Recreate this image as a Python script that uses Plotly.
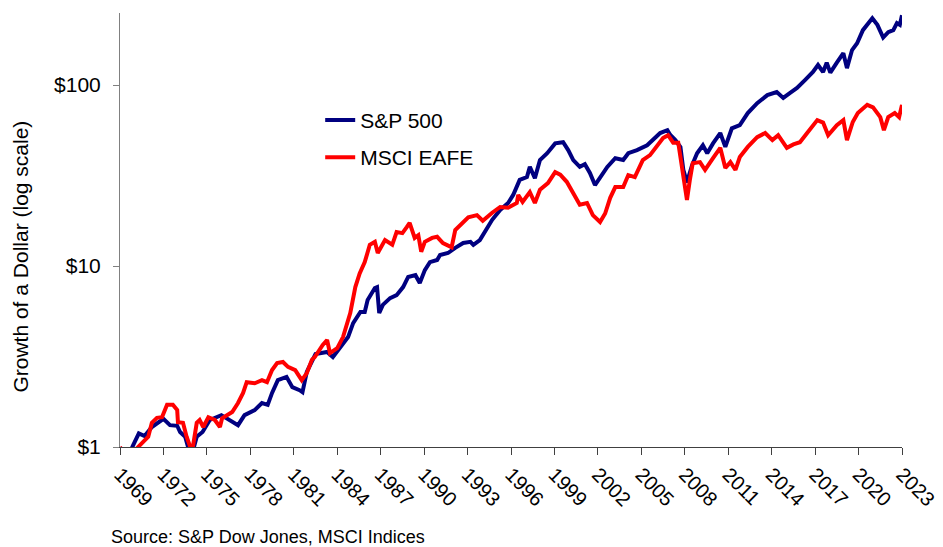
import plotly.graph_objects as go

# ---- data (x = year position on axis, y = growth of $1) ----
sp500_years = [1969.0, 1969.4, 1969.85, 1970.3, 1970.7, 1971.2, 1972.0, 1972.45, 1972.95, 1973.15,
               1973.5, 1973.7, 1974.0, 1974.3, 1974.7, 1975.2, 1976.0, 1976.5, 1977.15, 1977.6,
               1978.3, 1978.8, 1979.2, 1979.5, 1979.9, 1980.5, 1980.9, 1981.4, 1981.6, 1981.9,
               1982.3, 1982.5, 1983.3, 1983.7, 1984.75, 1985.1, 1985.6, 1985.9, 1986.1, 1986.6,
               1986.75, 1986.9, 1987.15, 1987.65, 1988.1, 1988.55, 1988.9, 1989.4, 1989.7, 1990.05,
               1990.4, 1990.9, 1991.1, 1991.65, 1992.15, 1992.7, 1993.2, 1993.4, 1993.85, 1994.2,
               1994.7, 1995.25, 1995.8, 1996.15, 1996.5, 1996.6, 1997.1, 1997.3, 1997.65, 1998.0,
               1998.5, 1999.05, 1999.6, 1999.95, 2000.3, 2000.75, 2001.1, 2001.45, 2001.8, 2002.15,
               2002.65, 2003.2, 2003.75, 2004.1, 2004.7, 2005.4, 2005.8, 2006.3, 2006.8, 2007.0,
               2007.35, 2007.7, 2007.9, 2008.15, 2008.5, 2008.85, 2009.25, 2009.55, 2009.95, 2010.45,
               2010.8, 2011.25, 2011.8, 2012.35, 2013.0, 2013.7, 2014.35, 2014.8, 2015.25, 2015.75,
               2016.3, 2016.85, 2017.2, 2017.55, 2017.8, 2018.05, 2018.5, 2018.95, 2019.2, 2019.55,
               2019.9, 2020.3, 2020.95, 2021.3, 2021.7, 2022.05, 2022.4, 2022.65, 2022.85, 2023.0]
sp500_values = [1.00, 0.78, 1.00, 1.19, 1.15, 1.29, 1.43, 1.32, 1.31, 1.21,
                1.14, 1.00, 0.93, 1.14, 1.21, 1.41, 1.50, 1.41, 1.32, 1.50,
                1.60, 1.75, 1.71, 1.99, 2.34, 2.44, 2.14, 2.06, 2.01, 2.60,
                3.03, 3.26, 3.35, 3.14, 4.05, 4.84, 5.57, 5.57, 6.49, 7.56,
                7.65, 5.50, 6.10, 6.65, 6.90, 7.65, 8.70, 8.90, 8.05, 9.50,
                10.5, 10.8, 11.5, 11.8, 12.6, 13.4, 13.6, 13.1, 13.9, 15.4,
                18.0, 20.4, 22.3, 24.7, 28.7, 29.9, 31.0, 35.3, 30.6, 38.5,
                42.0, 47.6, 48.3, 43.7, 38.5, 35.3, 36.5, 32.7, 28.0, 30.6,
                35.3, 39.4, 38.5, 42.0, 43.7, 46.5, 49.6, 54.3, 56.3, 53.0,
                49.6, 45.5, 34.0, 29.0, 36.0, 42.0, 46.5, 42.0, 47.6, 54.3,
                45.5, 57.7, 60.0, 70.0, 79.4, 88.0, 91.5, 84.9, 90.3, 96.3,
                106.5, 118.0, 129.0, 118.0, 133.0, 117.0, 133.0, 150.0, 124.0, 156.0,
                170.0, 201.0, 234.0, 215.0, 183.0, 196.0, 201.0, 220.0, 215.0, 243.0]

eafe_years = [1969.0, 1969.5, 1970.25, 1970.6, 1970.95, 1971.2, 1971.55, 1971.9, 1972.25, 1972.65,
              1972.95, 1973.0, 1973.35, 1973.6, 1973.85, 1974.05, 1974.3, 1974.5, 1974.75, 1975.1,
              1975.55, 1975.9, 1976.05, 1976.75, 1977.15, 1977.5, 1977.75, 1978.3, 1978.8, 1979.15,
              1979.5, 1979.85, 1980.25, 1980.6, 1981.1, 1981.55, 1981.9, 1982.25, 1982.45, 1983.0,
              1983.3, 1983.5, 1984.0, 1984.4, 1984.9, 1985.25, 1985.55, 1985.9, 1986.25, 1986.6,
              1986.8, 1987.3, 1987.8, 1988.1, 1988.5, 1988.8, 1989.0, 1989.35, 1989.6, 1989.8,
              1990.05, 1990.55, 1990.9, 1991.3, 1991.9, 1992.15, 1992.6, 1993.05, 1993.65, 1994.05,
              1994.7, 1995.25, 1995.8, 1996.4, 1996.5, 1996.8, 1997.3, 1997.65, 1998.0, 1998.55,
              1999.05, 1999.4, 1999.85, 2000.3, 2000.75, 2001.25, 2001.65, 2002.15, 2002.5, 2002.85,
              2003.2, 2003.75, 2004.1, 2004.55, 2005.1, 2005.6, 2006.1, 2006.5, 2006.85, 2007.2,
              2007.55, 2007.8, 2008.0, 2008.15, 2008.35, 2008.55, 2009.05, 2009.4, 2009.95, 2010.45,
              2010.8, 2011.15, 2011.5, 2011.8, 2012.35, 2013.0, 2013.55, 2014.05, 2014.45, 2015.05,
              2015.5, 2015.95, 2016.45, 2017.15, 2017.55, 2017.9, 2018.5, 2018.95, 2019.2, 2019.6,
              2019.95, 2020.6, 2021.0, 2021.5, 2021.75, 2022.05, 2022.5, 2022.8, 2023.0]
eafe_values = [1.00, 0.85, 1.00, 1.07, 1.14, 1.36, 1.45, 1.46, 1.71, 1.71,
               1.60, 1.37, 1.36, 1.14, 1.00, 1.02, 1.36, 1.41, 1.29, 1.46,
               1.41, 1.29, 1.44, 1.56, 1.75, 1.99, 2.28, 2.25, 2.34, 2.28,
               2.66, 2.91, 2.95, 2.77, 2.66, 2.34, 2.56, 3.03, 3.14, 3.66,
               3.90, 3.30, 3.52, 4.05, 5.50, 7.65, 9.10, 10.5, 13.1, 13.6,
               11.8, 13.9, 13.1, 15.4, 15.2, 16.4, 17.3, 14.3, 14.8, 12.0,
               13.6, 14.3, 14.5, 13.4, 12.7, 15.8, 17.3, 18.6, 19.1, 17.8,
               19.7, 21.2, 21.0, 22.3, 24.7, 22.6, 25.6, 22.3, 26.4, 28.7,
               33.0, 32.0, 29.2, 25.3, 21.8, 22.3, 19.1, 17.5, 19.5, 23.8,
               27.3, 27.3, 31.8, 31.0, 38.5, 41.0, 46.5, 50.9, 52.8, 48.0,
               48.0, 35.3, 27.3, 23.2, 29.9, 37.0, 37.5, 34.0, 39.5, 45.0,
               34.8, 37.5, 34.0, 40.0, 45.5, 51.5, 54.3, 49.6, 52.8, 45.0,
               47.0, 48.3, 54.3, 64.0, 62.0, 52.8, 60.0, 64.0, 49.6, 62.5,
               70.0, 77.7, 75.3, 66.5, 56.3, 66.5, 70.0, 66.5, 77.7]

x_tick_years = list(range(1969, 2024, 3))
x_tick_labels = [str(y) for y in x_tick_years]
y_tick_values = [1, 10, 100]
y_tick_labels = ["$1", "$10", "$100"]

FONT = "Arial, 'Liberation Sans', sans-serif"

fig = go.Figure()
fig.add_trace(go.Scatter(x=sp500_years, y=sp500_values, mode="lines", name="S&P 500",
                         line=dict(color="#000080", width=4), legendgroup="a"))
fig.add_trace(go.Scatter(x=eafe_years, y=eafe_values, mode="lines", name="MSCI EAFE",
                         line=dict(color="#FF0000", width=4), legendgroup="b"))

fig.update_layout(
    width=943, height=547,
    margin=dict(l=112, r=49, t=5, b=108),
    paper_bgcolor="white", plot_bgcolor="white",
    font=dict(family=FONT, color="black", size=20),
    showlegend=True,
    legend=dict(x=0.256, y=0.80, xanchor="left", yanchor="top",
                bgcolor="rgba(0,0,0,0)", font=dict(size=21, family=FONT),
                tracegroupgap=7, traceorder="grouped"),
    xaxis=dict(range=[1969, 2023], tickmode="array", tickvals=x_tick_years, ticktext=x_tick_labels,
               tickangle=45, ticks="outside", ticklen=7, tickcolor="#404040",
               showline=True, linecolor="#404040", linewidth=1, showgrid=False, zeroline=False,
               tickfont=dict(size=20, family=FONT)),
    yaxis=dict(type="log", range=[0, 2.398], tickmode="array", tickvals=y_tick_values,
               ticktext=y_tick_labels, ticks="outside", ticklen=6, tickcolor="#808080",
               showline=True, linecolor="#808080", linewidth=1, showgrid=False, zeroline=False,
               tickfont=dict(size=21, family=FONT), ticklabelstandoff=8),
    annotations=[
        dict(text="Growth of a Dollar (log scale)", xref="paper", yref="paper",
             x=-0.127, y=0.438, textangle=-90, showarrow=False,
             font=dict(size=21, family=FONT), xanchor="center", yanchor="middle"),
        dict(text="Source: S&P Dow Jones, MSCI Indices", xref="paper", yref="paper",
             x=-0.013, y=-0.2074, showarrow=False, xanchor="left", yanchor="middle",
             borderpad=0, font=dict(size=18, family=FONT)),
    ],
)

fig.write_html("out.html")
